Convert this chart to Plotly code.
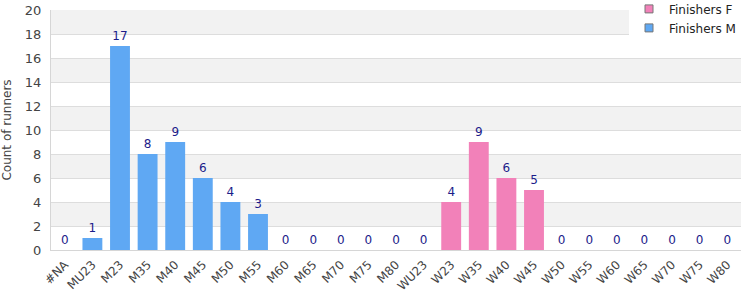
import plotly.graph_objects as go

categories = ["#NA", "MU23", "M23", "M35", "M40", "M45", "M50", "M55", "M60", "M65", "M70",
              "M75", "M80", "WU23", "W23", "W35", "W40", "W45", "W50", "W55", "W60", "W65",
              "W70", "W75", "W80"]
m_categories = categories[:14]
m_values = [0, 1, 17, 8, 9, 6, 4, 3, 0, 0, 0, 0, 0, 0]
f_categories = categories[14:]
f_values = [4, 9, 6, 5, 0, 0, 0, 0, 0, 0, 0]

blue = "#5fa8f3"
pink = "#f281b9"
label_color = "#1c1c8a"
font_family = "DejaVu Sans, Verdana, sans-serif"

fig = go.Figure()
for name, xs, ys, col in [("Finishers M", m_categories, m_values, blue),
                          ("Finishers F", f_categories, f_values, pink)]:
    fig.add_trace(go.Bar(
        x=xs, y=ys, name=name, marker=dict(color=col, line=dict(width=0)),
        width=0.72, text=[str(v) for v in ys], textposition="outside",
        textfont=dict(color=label_color, size=12, family=font_family),
        cliponaxis=False, showlegend=False,
    ))

# legend entries
for name, col in [("Finishers F", pink), ("Finishers M", blue)]:
    fig.add_trace(go.Scatter(
        x=[None], y=[None], mode="markers", name=name,
        marker=dict(symbol="square", size=8, color=col, line=dict(color="#777777", width=1)),
    ))

shapes = []
for lo in range(2, 20, 4):
    shapes.append(dict(type="rect", xref="paper", yref="y", x0=0, x1=1, y0=lo, y1=lo + 2,
                       fillcolor="#f2f2f2", line=dict(width=0), layer="below"))

fig.update_layout(
    width=750, height=300,
    margin=dict(l=51, r=9, t=10, b=50, autoexpand=False),
    paper_bgcolor="white", plot_bgcolor="white",
    barmode="overlay",
    font=dict(family=font_family, size=11, color="#444444"),
    shapes=shapes,
    showlegend=True,
    legend=dict(x=1, xanchor="right", y=1.065, yanchor="top", bgcolor="white",
                font=dict(size=12, color="#222222"), tracegroupgap=0,
                itemsizing="trace", traceorder="normal", itemwidth=30,
                borderwidth=0),
    xaxis=dict(type="category", categoryorder="array", categoryarray=categories,
               tickangle=-45, showgrid=False, showline=True, linecolor="#d6d6d6",
               linewidth=1, ticks="", tickfont=dict(size=12, color="#444444"),
               range=[-0.5, len(categories) - 0.5], mirror=False, ticklabelstandoff=2),
    yaxis=dict(range=[0, 20], dtick=2, showgrid=True, gridcolor="#dddddd", gridwidth=1,
               showline=True, linecolor="#d6d6d6", linewidth=1, zeroline=False,
               title=dict(text="Count of runners", font=dict(size=12, color="#444444"), standoff=10),
               tickfont=dict(size=13, color="#444444"), ticks="", ticklabelstandoff=6),
)
fig.write_html("out.html")
